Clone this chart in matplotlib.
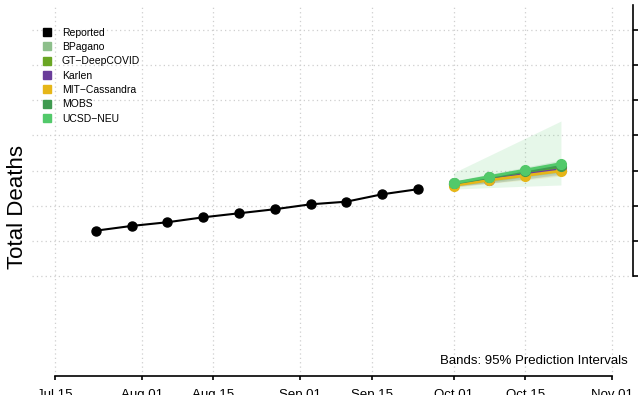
import matplotlib
matplotlib.use("Agg")
import matplotlib.pyplot as plt
import matplotlib.dates as mdates
from matplotlib.lines import Line2D
import datetime as dt

plt.rcParams['font.family'] = ['Liberation Sans', 'DejaVu Sans']

# ---------------- data ----------------
reported_dates = ["2022-07-23", "2022-07-30", "2022-08-06", "2022-08-13", "2022-08-20",
                  "2022-08-27", "2022-09-03", "2022-09-10", "2022-09-17", "2022-09-24"]
reported_values = [12580, 12850, 13060, 13340, 13570, 13800, 14080, 14230, 14650, 14940]

forecast_dates = ["2022-10-01", "2022-10-08", "2022-10-15", "2022-10-22"]

models = ["BPagano", "GT\u2212DeepCOVID", "Karlen", "MIT\u2212Cassandra", "MOBS", "UCSD\u2212NEU"]
model_colors = ["#8dbf8b", "#6aa624", "#6a3d9a", "#e6b618", "#3f9a50", "#52c96a"]

bpagano_median = [15240, 15550, 15860, 16150]
bpagano_lower = [15090, 15350, 15640, 15860]
bpagano_upper = [15380, 15750, 16120, 16490]

gtdeepcovid_median = [15240, 15580, 15890, 16200]
gtdeepcovid_lower = [15120, 15350, 15640, 15920]
gtdeepcovid_upper = [15350, 15640, 15980, 16320]

karlen_median = [15210, 15490, 15780, 16060]
karlen_lower = [15070, 15290, 15520, 15750]
karlen_upper = [15350, 15690, 15980, 16260]

mitcassandra_median = [15150, 15460, 15720, 15980]
mitcassandra_lower = [15040, 15270, 15460, 15690]
mitcassandra_upper = [15270, 15640, 15920, 16200]

mobs_median = [15270, 15610, 15950, 16260]
mobs_lower = [15120, 15290, 15520, 15810]
mobs_upper = [15410, 15810, 16200, 16600]

ucsdneu_median = [15290, 15660, 16030, 16400]
ucsdneu_lower = [14950, 15030, 15110, 15180]
ucsdneu_upper = [15880, 16860, 17840, 18820]

medians = [bpagano_median, gtdeepcovid_median, karlen_median, mitcassandra_median, mobs_median, ucsdneu_median]
lowers = [bpagano_lower, gtdeepcovid_lower, karlen_lower, mitcassandra_lower, mobs_lower, ucsdneu_lower]
uppers = [bpagano_upper, gtdeepcovid_upper, karlen_upper, mitcassandra_upper, mobs_upper, ucsdneu_upper]

xtick_dates = ["2022-07-15", "2022-08-01", "2022-08-15", "2022-09-01",
               "2022-09-15", "2022-10-01", "2022-10-15", "2022-11-01"]
xtick_labels = ["Jul 15", "Aug 01", "Aug 15", "Sep 01", "Sep 15", "Oct 01", "Oct 15", "Nov 01"]
ytick_values = [10000, 12000, 14000, 16000, 18000, 20000, 22000, 24000]

# ---------------- figure ----------------
def d(s):
    return dt.datetime.strptime(s, "%Y-%m-%d")

fig = plt.figure(figsize=(6.38, 3.95), dpi=100)
ax = fig.add_axes([32/638, 1-376/395, 601/638, 371/395])

rx = [d(s) for s in reported_dates]
fx = [d(s) for s in forecast_dates]
tx = [d(s) for s in xtick_dates]

# bands
for lo, up, c in zip(lowers, uppers, model_colors):
    ax.fill_between(fx, lo, up, color=c, alpha=0.14, linewidth=0, zorder=2)

# reported
ax.plot(rx, reported_values, color="black", lw=1.5, marker="o", ms=6.5, zorder=4)

# model lines
for m, c in zip(medians, model_colors):
    ax.plot(fx, m, color=c, lw=2, marker="o", ms=7, zorder=5)

ax.set_xlim(d("2022-07-15") - dt.timedelta(days=4.5), d("2022-11-01") + dt.timedelta(days=4.1))
ax.set_ylim(4308, 25425)

ax.set_xticks(tx)
ax.set_xticklabels(xtick_labels, fontsize=9.5)
ax.set_yticks(ytick_values)
ax.yaxis.tick_right()
ax.tick_params(axis='y', which='both', right=True, left=False, labelright=False, labelleft=False,
               direction='out', length=3.6, width=1.2)
ax.tick_params(axis='x', direction='out', length=2.6, width=1.2, pad=7)

ax.grid(True, color="#cfcfcf", linestyle=(0, (1, 2.5)), linewidth=0.9)
ax.set_axisbelow(True)

for s in ["top", "left"]:
    ax.spines[s].set_visible(False)
ax.spines["bottom"].set_bounds(mdates.date2num(tx[0]), mdates.date2num(tx[-1]))
ax.spines["bottom"].set_linewidth(1.2)
ax.spines["right"].set_bounds(ytick_values[0], 25425)
ax.spines["right"].set_linewidth(1.2)

# legend
handles = [Line2D([], [], linestyle='none', marker='s', ms=5.8, color="black")]
handles += [Line2D([], [], linestyle='none', marker='s', ms=5.8, color=c) for c in model_colors]
labels = ["Reported"] + models
leg = ax.legend(handles, labels, loc="upper left", bbox_to_anchor=(42/638, 1-27.5/395),
                bbox_transform=fig.transFigure, frameon=False, fontsize=7.5,
                borderaxespad=0, borderpad=0, handlelength=1.0, handletextpad=0.9,
                labelspacing=0.42)

fig.text(18/638, 1-207/395, "Total Deaths", rotation=90, fontsize=16, ha="center", va="center")
fig.text(628/638, 1-361/395, "Bands: 95% Prediction Intervals", fontsize=9.5, ha="right", va="center")

fig.savefig("out.png", dpi=100)
